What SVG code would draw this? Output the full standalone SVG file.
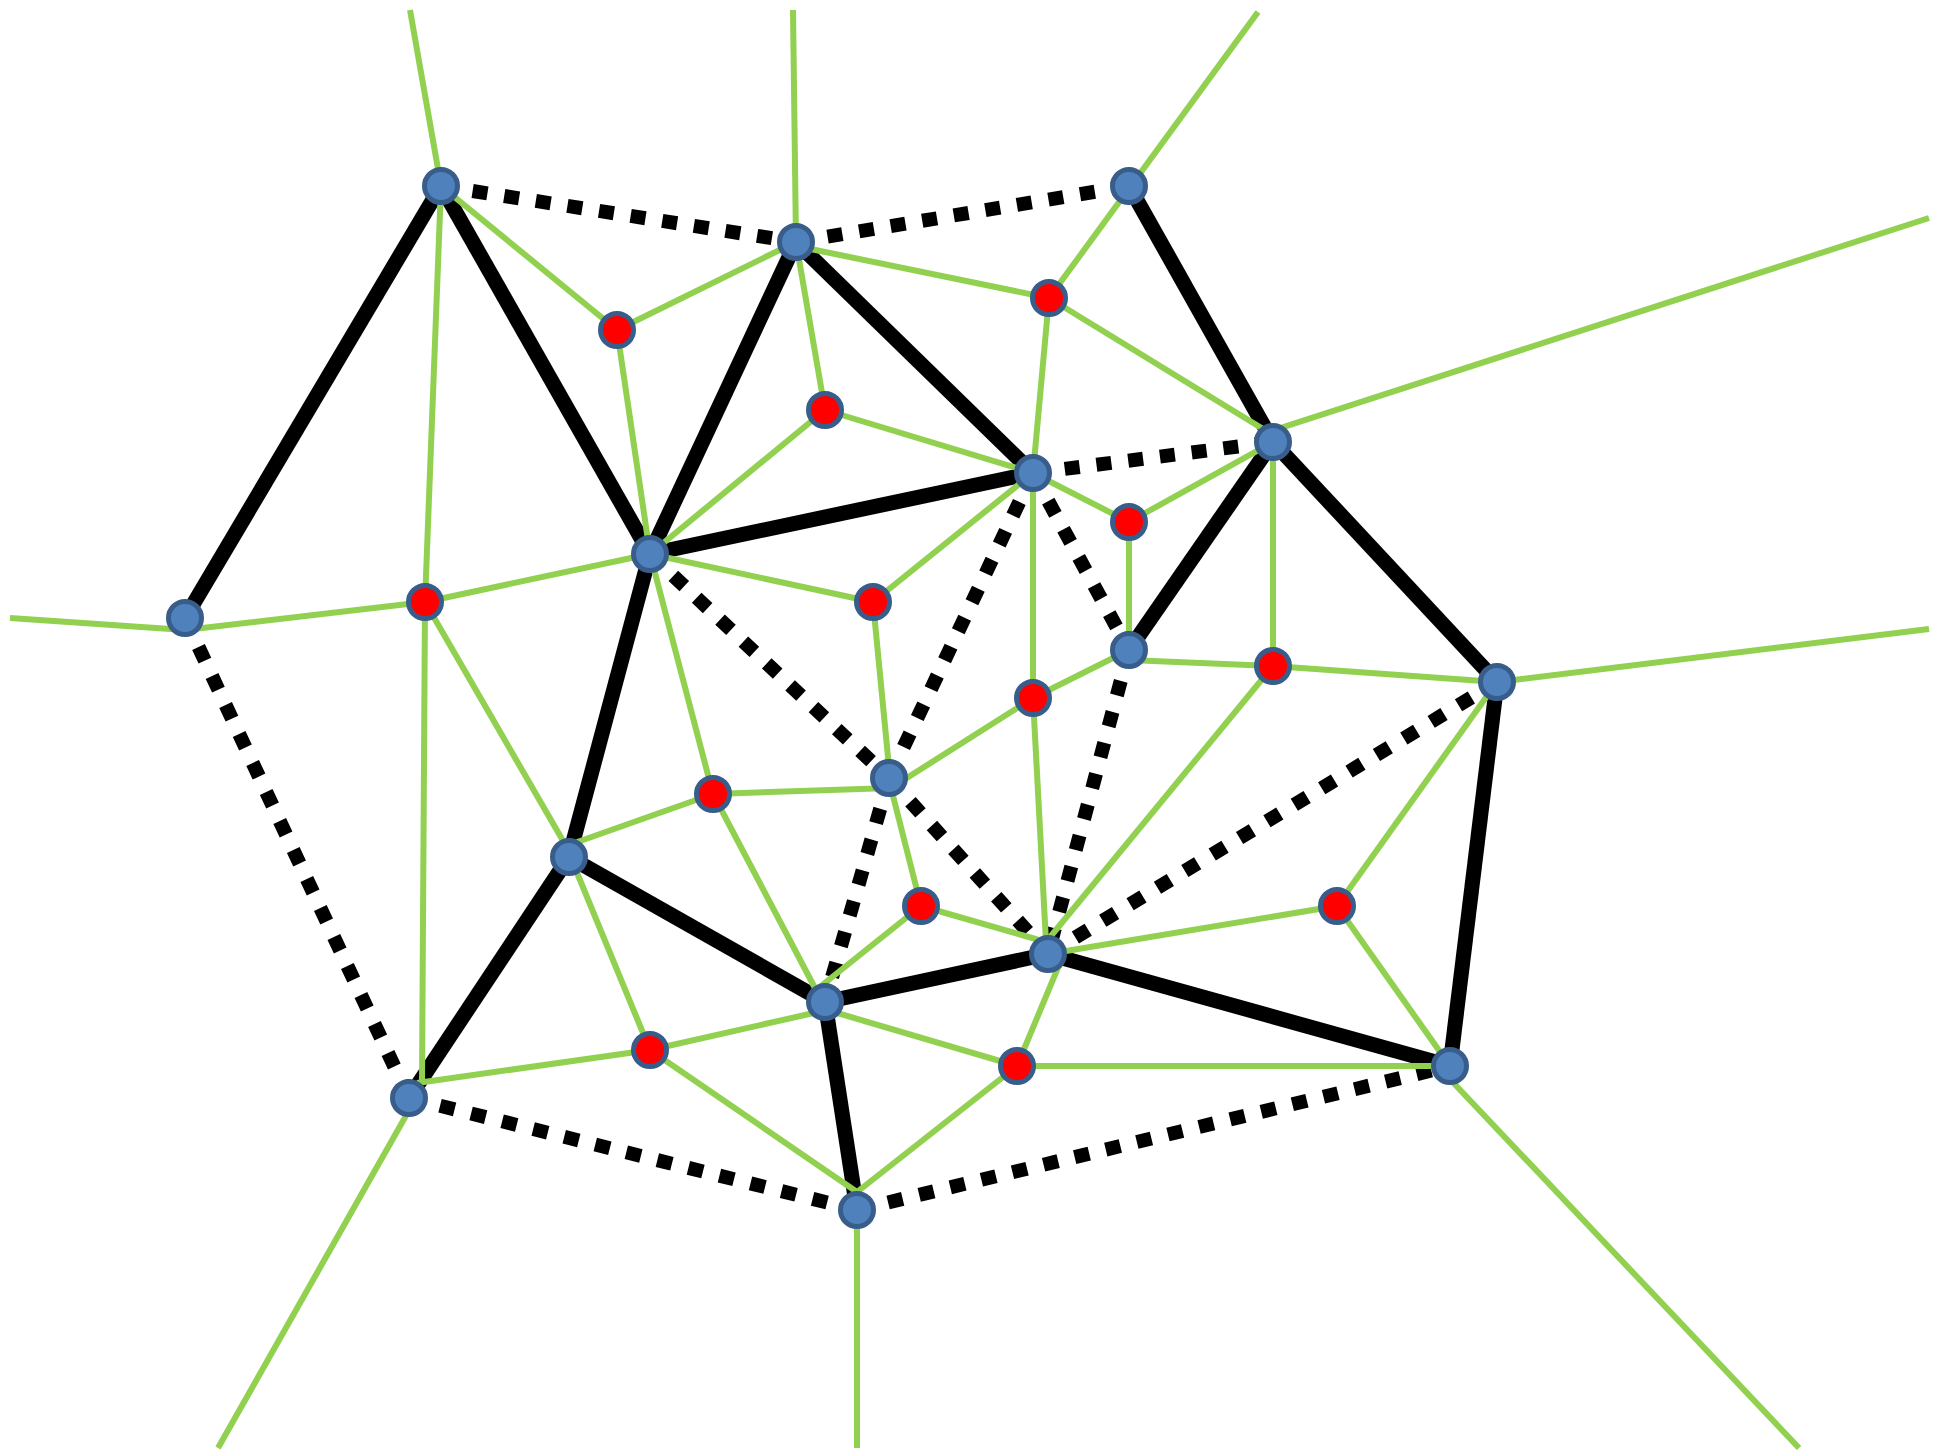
<svg xmlns="http://www.w3.org/2000/svg" width="1933" height="1452" viewBox="0 0 1933 1452">
<style>
.solid{stroke:#000;stroke-width:15;fill:none;stroke-linecap:butt}
.dot{stroke:#000;stroke-width:14;fill:none;stroke-dasharray:15 17;stroke-linecap:butt}
.g{stroke:#92D050;stroke-width:6;fill:none}
.blue{fill:#4F81BD;stroke:#385D8A;stroke-width:5}
.red{fill:#FF0000;stroke:#385D8A;stroke-width:5}
</style>
<rect width="1933" height="1452" fill="#fff"/>
<g id="connectors">
<g id="delaunay-solid">
<line class="solid" x1="441" y1="186" x2="185" y2="618"/>
<line class="solid" x1="441" y1="186" x2="650" y2="554"/>
<line class="solid" x1="796" y1="242" x2="650" y2="554"/>
<line class="solid" x1="796" y1="242" x2="1033" y2="473"/>
<line class="solid" x1="650" y1="554" x2="1033" y2="473"/>
<line class="solid" x1="1129" y1="186" x2="1273" y2="442"/>
<line class="solid" x1="1273" y1="442" x2="1129" y2="650"/>
<line class="solid" x1="1273" y1="442" x2="1497" y2="682"/>
<line class="solid" x1="650" y1="554" x2="569" y2="857"/>
<line class="solid" x1="569" y1="857" x2="409" y2="1098"/>
<line class="solid" x1="569" y1="857" x2="825" y2="1002"/>
<line class="solid" x1="825" y1="1002" x2="1048" y2="954"/>
<line class="solid" x1="825" y1="1002" x2="857" y2="1210"/>
<line class="solid" x1="1048" y1="954" x2="1450" y2="1066"/>
<line class="solid" x1="1497" y1="682" x2="1450" y2="1066"/>
</g>
<g id="delaunay-dotted">
<line class="dot" x1="441" y1="186" x2="796" y2="242"/>
<line class="dot" x1="796" y1="242" x2="1129" y2="186"/>
<line class="dot" x1="1033" y1="473" x2="1273" y2="442"/>
<line class="dot" x1="185" y1="618" x2="409" y2="1098"/>
<line class="dot" x1="409" y1="1098" x2="857" y2="1210"/>
<line class="dot" x1="857" y1="1210" x2="1450" y2="1066"/>
<line class="dot" x1="650" y1="554" x2="889" y2="778"/>
<line class="dot" x1="889" y1="778" x2="1048" y2="954"/>
<line class="dot" x1="1033" y1="473" x2="889" y2="778"/>
<line class="dot" x1="889" y1="778" x2="825" y2="1002"/>
<line class="dot" x1="1033" y1="473" x2="1129" y2="650"/>
<line class="dot" x1="1129" y1="650" x2="1048" y2="954"/>
<line class="dot" x1="1048" y1="954" x2="1497" y2="682"/>
</g>
<g id="voronoi">
<line class="g" x1="410" y1="10" x2="441" y2="186"/>
<line class="g" x1="441" y1="186" x2="425" y2="602"/>
<line class="g" x1="441" y1="186" x2="617" y2="330"/>
<line class="g" x1="617" y1="330" x2="796" y2="242"/>
<line class="g" x1="617" y1="330" x2="650" y2="554"/>
<line class="g" x1="793" y1="10" x2="796" y2="242"/>
<line class="g" x1="796" y1="242" x2="825" y2="410"/>
<line class="g" x1="796" y1="246" x2="1049" y2="298"/>
<line class="g" x1="1258" y1="12" x2="1049" y2="298"/>
<line class="g" x1="1049" y1="298" x2="1033" y2="473"/>
<line class="g" x1="1049" y1="298" x2="1268" y2="432"/>
<line class="g" x1="1268" y1="432" x2="1929" y2="218"/>
<line class="g" x1="825" y1="410" x2="1033" y2="473"/>
<line class="g" x1="825" y1="410" x2="650" y2="554"/>
<line class="g" x1="1033" y1="473" x2="1129" y2="522"/>
<line class="g" x1="1129" y1="522" x2="1273" y2="442"/>
<line class="g" x1="1129" y1="522" x2="1129" y2="650"/>
<line class="g" x1="1273" y1="442" x2="1273" y2="666"/>
<line class="g" x1="1033" y1="473" x2="873" y2="602"/>
<line class="g" x1="1033" y1="473" x2="1033" y2="698"/>
<line class="g" x1="650" y1="554" x2="873" y2="602"/>
<line class="g" x1="650" y1="554" x2="425" y2="602"/>
<line class="g" x1="425" y1="602" x2="185" y2="630"/>
<line class="g" x1="10" y1="618" x2="185" y2="630"/>
<line class="g" x1="425" y1="602" x2="422" y2="1083"/>
<line class="g" x1="425" y1="602" x2="566" y2="846"/>
<line class="g" x1="873" y1="602" x2="891" y2="788"/>
<line class="g" x1="650" y1="554" x2="713" y2="794"/>
<line class="g" x1="1129" y1="660" x2="1273" y2="666"/>
<line class="g" x1="1129" y1="650" x2="1033" y2="698"/>
<line class="g" x1="1273" y1="666" x2="1497" y2="682"/>
<line class="g" x1="1497" y1="682" x2="1929" y2="629"/>
<line class="g" x1="1273" y1="666" x2="1046" y2="942"/>
<line class="g" x1="1033" y1="698" x2="891" y2="788"/>
<line class="g" x1="1033" y1="698" x2="1046" y2="942"/>
<line class="g" x1="713" y1="794" x2="891" y2="788"/>
<line class="g" x1="713" y1="794" x2="566" y2="846"/>
<line class="g" x1="713" y1="794" x2="816" y2="990"/>
<line class="g" x1="891" y1="788" x2="921" y2="906"/>
<line class="g" x1="921" y1="906" x2="1046" y2="942"/>
<line class="g" x1="921" y1="906" x2="816" y2="990"/>
<line class="g" x1="1048" y1="954" x2="1337" y2="906"/>
<line class="g" x1="1337" y1="906" x2="1497" y2="682"/>
<line class="g" x1="1337" y1="906" x2="1450" y2="1066"/>
<line class="g" x1="1062" y1="958" x2="1017" y2="1066"/>
<line class="g" x1="566" y1="846" x2="650" y2="1050"/>
<line class="g" x1="650" y1="1050" x2="417" y2="1083"/>
<line class="g" x1="650" y1="1050" x2="827" y2="1010"/>
<line class="g" x1="827" y1="1010" x2="1017" y2="1066"/>
<line class="g" x1="1017" y1="1066" x2="1450" y2="1066"/>
<line class="g" x1="1017" y1="1066" x2="857" y2="1192"/>
<line class="g" x1="650" y1="1050" x2="857" y2="1192"/>
<line class="g" x1="857" y1="1192" x2="857" y2="1448"/>
<line class="g" x1="412" y1="1105" x2="218" y2="1448"/>
<line class="g" x1="1446" y1="1075" x2="1799" y2="1448"/>
</g>
</g>
<g id="sites">
<circle id="b1" class="blue" cx="441" cy="186" r="16.5"/>
<circle id="b2" class="blue" cx="796" cy="242" r="16.5"/>
<circle id="b3" class="blue" cx="1129" cy="186" r="16.5"/>
<circle id="b4" class="blue" cx="185" cy="618" r="16.5"/>
<circle id="b5" class="blue" cx="650" cy="554" r="16.5"/>
<circle id="b6" class="blue" cx="1033" cy="473" r="16.5"/>
<circle id="b7" class="blue" cx="1273" cy="442" r="16.5"/>
<circle id="b8" class="blue" cx="1129" cy="650" r="16.5"/>
<circle id="b9" class="blue" cx="1497" cy="682" r="16.5"/>
<circle id="b10" class="blue" cx="889" cy="778" r="16.5"/>
<circle id="b11" class="blue" cx="569" cy="857" r="16.5"/>
<circle id="b12" class="blue" cx="1048" cy="954" r="16.5"/>
<circle id="b13" class="blue" cx="825" cy="1002" r="16.5"/>
<circle id="b14" class="blue" cx="409" cy="1098" r="16.5"/>
<circle id="b15" class="blue" cx="1450" cy="1066" r="16.5"/>
<circle id="b16" class="blue" cx="857" cy="1210" r="16.5"/>
</g>
<g id="vertices">
<circle id="r1" class="red" cx="617" cy="330" r="16.5"/>
<circle id="r2" class="red" cx="1049" cy="298" r="16.5"/>
<circle id="r3" class="red" cx="825" cy="410" r="16.5"/>
<circle id="r4" class="red" cx="1129" cy="522" r="16.5"/>
<circle id="r5" class="red" cx="425" cy="602" r="16.5"/>
<circle id="r6" class="red" cx="873" cy="602" r="16.5"/>
<circle id="r7" class="red" cx="1273" cy="666" r="16.5"/>
<circle id="r8" class="red" cx="1033" cy="698" r="16.5"/>
<circle id="r9" class="red" cx="713" cy="794" r="16.5"/>
<circle id="r10" class="red" cx="921" cy="906" r="16.5"/>
<circle id="r11" class="red" cx="1337" cy="906" r="16.5"/>
<circle id="r12" class="red" cx="650" cy="1050" r="16.5"/>
<circle id="r13" class="red" cx="1017" cy="1066" r="16.5"/>
</g>
</svg>
